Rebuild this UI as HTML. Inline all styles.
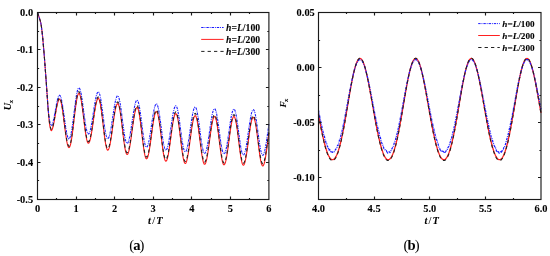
<!DOCTYPE html>
<html><head><meta charset="utf-8"><style>
html,body{margin:0;padding:0;background:#fff;}
body{width:550px;height:256px;overflow:hidden;}
svg{display:block;will-change:transform;}
</style></head><body>
<svg width="550" height="256" viewBox="0 0 550 256">
<style>
.t { font-family: "Liberation Serif", serif; font-weight: bold; font-size: 10.4px; fill: #000; stroke: #000; stroke-width: 0.08px; }
.cap { font-family: "Liberation Serif", serif; font-size: 14.6px; fill: #000; letter-spacing: -0.9px; }
</style>
<rect width="550" height="256" fill="#fff"/>
<!-- left plot curves -->
<g fill="none" stroke-linejoin="round">
<path d="M37.5 12.5 L37.68 13.03 L37.94 13.76 L38.24 14.62 L38.57 15.57 L38.9 16.55 L39.2 17.5 L39.49 18.4 L39.78 19.3 L40.08 20.22 L40.36 21.2 L40.64 22.29 L40.9 23.5 L41.15 24.91 L41.39 26.5 L41.61 28.19 L41.83 29.89 L42.02 31.52 L42.2 33 L42.34 34.22 L42.46 35.22 L42.55 36.16 L42.64 37.17 L42.76 38.4 L42.9 40 L43.08 42.01 L43.29 44.33 L43.51 46.88 L43.74 49.56 L43.98 52.29 L44.2 55 L44.42 57.71 L44.63 60.48 L44.85 63.31 L45.07 66.19 L45.28 69.09 L45.5 72 L45.72 74.97 L45.94 78 L46.16 81.06 L46.38 84.11 L46.59 87.1 L46.8 90 L47 92.83 L47.19 95.63 L47.37 98.37 L47.55 101.03 L47.72 103.58 L47.9 106 L48.07 108.29 L48.24 110.47 L48.41 112.55 L48.57 114.51 L48.73 116.36 L48.9 118.1 L49.06 119.72 L49.23 121.22 L49.39 122.6 L49.55 123.88 L49.72 125.07 L49.9 126.16 L50.1 127.17 L50.33 128.1 L50.56 128.93 L50.78 129.65 L50.97 130.25 L51.1 130.7 L51.63 130.4 L52.16 129.5 L52.68 128.05 L53.21 126.09 L53.74 123.7 L54.27 120.98 L54.8 118.02 L55.33 114.95 L55.85 111.88 L56.38 108.92 L56.91 106.2 L57.44 103.81 L57.97 101.85 L58.49 100.4 L59.02 99.5 L59.55 99.2 L60.07 99.57 L60.6 100.66 L61.12 102.44 L61.65 104.86 L62.17 107.84 L62.7 111.3 L63.23 115.12 L63.75 119.2 L64.28 123.4 L64.8 127.6 L65.33 131.68 L65.85 135.5 L66.38 138.96 L66.9 141.94 L67.42 144.36 L67.95 146.14 L68.47 147.23 L69 147.6 L69.52 147.23 L70.04 146.13 L70.57 144.33 L71.09 141.89 L71.61 138.85 L72.13 135.32 L72.66 131.39 L73.18 127.15 L73.7 122.74 L74.22 118.26 L74.75 113.85 L75.27 109.61 L75.79 105.68 L76.31 102.15 L76.84 99.11 L77.36 96.67 L77.88 94.87 L78.4 93.77 L78.92 93.4 L79.45 93.78 L79.97 94.9 L80.5 96.74 L81.02 99.24 L81.55 102.31 L82.08 105.88 L82.6 109.82 L83.12 114.02 L83.65 118.35 L84.17 122.68 L84.7 126.88 L85.22 130.82 L85.75 134.39 L86.28 137.46 L86.8 139.96 L87.33 141.8 L87.85 142.92 L88.38 143.3 L88.9 142.99 L89.42 142.08 L89.94 140.59 L90.46 138.56 L90.99 136.04 L91.51 133.11 L92.03 129.84 L92.55 126.32 L93.08 122.66 L93.6 118.94 L94.12 115.28 L94.64 111.76 L95.17 108.49 L95.69 105.56 L96.21 103.04 L96.73 101.01 L97.26 99.52 L97.78 98.61 L98.3 98.3 L98.83 98.69 L99.35 99.86 L99.88 101.78 L100.4 104.37 L100.92 107.57 L101.45 111.27 L101.97 115.37 L102.5 119.74 L103.03 124.25 L103.55 128.76 L104.08 133.13 L104.6 137.22 L105.12 140.93 L105.65 144.13 L106.17 146.72 L106.7 148.64 L107.22 149.81 L107.75 150.2 L108.27 149.88 L108.79 148.94 L109.32 147.39 L109.84 145.29 L110.36 142.68 L110.88 139.64 L111.41 136.26 L111.93 132.62 L112.45 128.82 L112.97 124.98 L113.5 121.18 L114.02 117.54 L114.54 114.16 L115.06 111.12 L115.59 108.51 L116.11 106.41 L116.63 104.86 L117.15 103.92 L117.67 103.6 L118.2 103.99 L118.72 105.13 L119.25 107.01 L119.77 109.55 L120.3 112.69 L120.83 116.32 L121.35 120.35 L121.88 124.63 L122.4 129.05 L122.92 133.47 L123.45 137.75 L123.97 141.77 L124.5 145.41 L125.03 148.55 L125.55 151.09 L126.08 152.97 L126.6 154.11 L127.12 154.5 L127.65 154.18 L128.17 153.22 L128.69 151.66 L129.21 149.53 L129.74 146.9 L130.26 143.83 L130.78 140.41 L131.3 136.73 L131.83 132.89 L132.35 129.01 L132.87 125.17 L133.39 121.49 L133.92 118.07 L134.44 115 L134.96 112.37 L135.48 110.24 L136.01 108.68 L136.53 107.72 L137.05 107.4 L137.58 107.79 L138.1 108.95 L138.62 110.85 L139.15 113.42 L139.68 116.6 L140.2 120.28 L140.72 124.34 L141.25 128.68 L141.78 133.15 L142.3 137.62 L142.83 141.96 L143.35 146.03 L143.88 149.7 L144.4 152.88 L144.93 155.45 L145.45 157.35 L145.97 158.51 L146.5 158.9 L147.02 158.58 L147.54 157.62 L148.07 156.05 L148.59 153.91 L149.11 151.27 L149.63 148.19 L150.16 144.75 L150.68 141.06 L151.2 137.2 L151.72 133.3 L152.25 129.44 L152.77 125.75 L153.29 122.31 L153.81 119.23 L154.34 116.59 L154.86 114.45 L155.38 112.88 L155.9 111.92 L156.43 111.6 L156.95 111.98 L157.48 113.1 L158 114.92 L158.53 117.4 L159.05 120.46 L159.58 124 L160.1 127.92 L160.62 132.09 L161.15 136.4 L161.68 140.71 L162.2 144.88 L162.72 148.8 L163.25 152.34 L163.78 155.4 L164.3 157.88 L164.82 159.7 L165.35 160.82 L165.88 161.2 L166.4 160.88 L166.92 159.91 L167.44 158.33 L167.96 156.18 L168.49 153.52 L169.01 150.42 L169.53 146.96 L170.05 143.24 L170.58 139.37 L171.1 135.43 L171.62 131.56 L172.14 127.84 L172.67 124.38 L173.19 121.28 L173.71 118.62 L174.23 116.47 L174.76 114.89 L175.28 113.92 L175.8 113.6 L176.33 113.98 L176.85 115.1 L177.38 116.94 L177.9 119.44 L178.43 122.51 L178.95 126.07 L179.47 130.02 L180 134.22 L180.53 138.55 L181.05 142.88 L181.58 147.08 L182.1 151.02 L182.62 154.59 L183.15 157.66 L183.68 160.16 L184.2 162 L184.72 163.12 L185.25 163.5 L185.77 163.17 L186.29 162.2 L186.82 160.61 L187.34 158.45 L187.86 155.77 L188.38 152.65 L188.91 149.17 L189.43 145.43 L189.95 141.53 L190.47 137.57 L191 133.67 L191.52 129.93 L192.04 126.45 L192.56 123.33 L193.09 120.65 L193.61 118.49 L194.13 116.9 L194.65 115.93 L195.18 115.6 L195.7 115.97 L196.23 117.07 L196.75 118.86 L197.28 121.3 L197.8 124.3 L198.33 127.77 L198.85 131.62 L199.38 135.72 L199.9 139.95 L200.43 144.18 L200.95 148.28 L201.47 152.12 L202 155.6 L202.53 158.6 L203.05 161.04 L203.57 162.83 L204.1 163.93 L204.62 164.3 L205.15 163.97 L205.67 163.01 L206.19 161.42 L206.71 159.26 L207.24 156.59 L207.76 153.47 L208.28 150 L208.8 146.27 L209.33 142.37 L209.85 138.43 L210.37 134.53 L210.89 130.8 L211.42 127.33 L211.94 124.21 L212.46 121.54 L212.98 119.38 L213.51 117.79 L214.03 116.83 L214.55 116.5 L215.08 116.87 L215.6 117.96 L216.12 119.74 L216.65 122.16 L217.18 125.14 L217.7 128.6 L218.22 132.42 L218.75 136.5 L219.28 140.7 L219.8 144.9 L220.33 148.98 L220.85 152.8 L221.38 156.26 L221.9 159.24 L222.43 161.66 L222.95 163.44 L223.47 164.53 L224 164.9 L224.52 164.57 L225.04 163.59 L225.57 161.98 L226.09 159.8 L226.61 157.09 L227.13 153.94 L227.66 150.42 L228.18 146.64 L228.7 142.7 L229.22 138.7 L229.75 134.76 L230.27 130.98 L230.79 127.46 L231.31 124.31 L231.84 121.6 L232.36 119.42 L232.88 117.81 L233.4 116.83 L233.93 116.5 L234.45 116.87 L234.98 117.97 L235.5 119.76 L236.03 122.2 L236.55 125.2 L237.08 128.67 L237.6 132.52 L238.12 136.62 L238.65 140.85 L239.18 145.08 L239.7 149.18 L240.22 153.02 L240.75 156.5 L241.28 159.5 L241.8 161.94 L242.32 163.73 L242.85 164.83 L243.38 165.2 L243.9 164.87 L244.42 163.9 L244.94 162.31 L245.46 160.15 L245.99 157.47 L246.51 154.35 L247.03 150.87 L247.55 147.13 L248.08 143.23 L248.6 139.27 L249.12 135.37 L249.64 131.63 L250.17 128.15 L250.69 125.03 L251.21 122.35 L251.73 120.19 L252.26 118.6 L252.78 117.63 L253.3 117.3 L253.83 117.67 L254.35 118.77 L254.88 120.56 L255.4 123 L255.93 126 L256.45 129.47 L256.98 133.32 L257.5 137.42 L258.02 141.65 L258.55 145.88 L259.07 149.98 L259.6 153.82 L260.12 157.3 L260.65 160.3 L261.18 162.74 L261.7 164.53 L262.23 165.63 L262.75 166 L263.24 165.7 L263.74 164.82 L264.23 163.37 L264.73 161.4 L265.22 158.94 L265.72 156.07 L266.21 152.84 L266.7 149.35 L267.2 145.67 L267.69 141.9 L268.19 138.13 L268.68 134.45 L268.9 132.89" stroke="#ff1c1c" stroke-width="1.1"/>
<path d="M37.5 12.5 L37.68 13.03 L37.94 13.76 L38.24 14.62 L38.57 15.57 L38.9 16.55 L39.2 17.5 L39.49 18.4 L39.78 19.3 L40.08 20.22 L40.36 21.2 L40.64 22.29 L40.9 23.5 L41.15 24.91 L41.39 26.5 L41.61 28.19 L41.83 29.89 L42.02 31.52 L42.2 33 L42.34 34.22 L42.46 35.22 L42.55 36.16 L42.64 37.17 L42.76 38.4 L42.9 40 L43.08 42.01 L43.29 44.33 L43.51 46.88 L43.74 49.56 L43.98 52.29 L44.2 55 L44.42 57.71 L44.63 60.48 L44.85 63.31 L45.07 66.19 L45.28 69.09 L45.5 72 L45.72 74.97 L45.94 78 L46.16 81.06 L46.38 84.11 L46.59 87.1 L46.8 90 L47 92.86 L47.19 95.72 L47.37 98.53 L47.55 101.22 L47.72 103.73 L47.9 106 L48.07 108 L48.24 109.77 L48.41 111.37 L48.57 112.83 L48.73 114.21 L48.9 115.55 L49.06 116.85 L49.23 118.06 L49.39 119.19 L49.55 120.24 L49.72 121.2 L49.9 122.08 L50.1 122.88 L50.33 123.61 L50.56 124.25 L50.78 124.8 L50.97 125.25 L51.1 125.6 L51.63 125.31 L52.16 124.45 L52.68 123.05 L53.21 121.16 L53.74 118.87 L54.27 116.25 L54.8 113.41 L55.33 110.45 L55.85 107.49 L56.38 104.65 L56.91 102.03 L57.44 99.74 L57.97 97.85 L58.49 96.45 L59.02 95.59 L59.55 95.3 L60.07 95.63 L60.6 96.62 L61.12 98.23 L61.65 100.41 L62.17 103.11 L62.7 106.22 L63.23 109.68 L63.75 113.36 L64.28 117.15 L64.8 120.94 L65.33 124.62 L65.85 128.07 L66.38 131.19 L66.9 133.89 L67.42 136.07 L67.95 137.68 L68.47 138.67 L69 139 L69.52 138.65 L70.04 137.61 L70.57 135.91 L71.09 133.6 L71.61 130.74 L72.13 127.4 L72.66 123.68 L73.18 119.68 L73.7 115.51 L74.22 111.29 L74.75 107.12 L75.27 103.12 L75.79 99.4 L76.31 96.06 L76.84 93.2 L77.36 90.89 L77.88 89.19 L78.4 88.15 L78.92 87.8 L79.45 88.15 L79.97 89.19 L80.5 90.89 L81.02 93.2 L81.55 96.05 L82.08 99.35 L82.6 103 L83.12 106.89 L83.65 110.9 L84.17 114.91 L84.7 118.8 L85.22 122.45 L85.75 125.75 L86.28 128.6 L86.8 130.91 L87.33 132.61 L87.85 133.65 L88.38 134 L88.9 133.71 L89.42 132.86 L89.94 131.46 L90.46 129.55 L90.99 127.19 L91.51 124.44 L92.03 121.38 L92.55 118.08 L93.08 114.64 L93.6 111.16 L94.12 107.72 L94.64 104.42 L95.17 101.36 L95.69 98.61 L96.21 96.25 L96.73 94.34 L97.26 92.94 L97.78 92.09 L98.3 91.8 L98.83 92.16 L99.35 93.22 L99.88 94.95 L100.4 97.3 L100.92 100.19 L101.45 103.55 L101.97 107.26 L102.5 111.22 L103.03 115.3 L103.55 119.38 L104.08 123.34 L104.6 127.05 L105.12 130.41 L105.65 133.3 L106.17 135.65 L106.7 137.38 L107.22 138.44 L107.75 138.8 L108.27 138.51 L108.79 137.64 L109.32 136.21 L109.84 134.27 L110.36 131.86 L110.88 129.06 L111.41 125.94 L111.93 122.58 L112.45 119.08 L112.97 115.52 L113.5 112.02 L114.02 108.66 L114.54 105.54 L115.06 102.74 L115.59 100.33 L116.11 98.39 L116.63 96.96 L117.15 96.09 L117.67 95.8 L118.2 96.16 L118.72 97.24 L119.25 99 L119.77 101.38 L120.3 104.32 L120.83 107.72 L121.35 111.49 L121.88 115.51 L122.4 119.65 L122.92 123.79 L123.45 127.81 L123.97 131.57 L124.5 134.98 L125.03 137.92 L125.55 140.3 L126.08 142.06 L126.6 143.14 L127.12 143.5 L127.65 143.2 L128.17 142.32 L128.69 140.88 L129.21 138.92 L129.74 136.5 L130.26 133.67 L130.78 130.52 L131.3 127.13 L131.83 123.59 L132.35 120.01 L132.87 116.47 L133.39 113.08 L133.92 109.93 L134.44 107.1 L134.96 104.68 L135.48 102.72 L136.01 101.28 L136.53 100.4 L137.05 100.1 L137.58 100.46 L138.1 101.52 L138.62 103.26 L139.15 105.61 L139.68 108.51 L140.2 111.87 L140.72 115.6 L141.25 119.56 L141.78 123.65 L142.3 127.74 L142.83 131.7 L143.35 135.42 L143.88 138.79 L144.4 141.69 L144.93 144.04 L145.45 145.78 L145.97 146.84 L146.5 147.2 L147.02 146.9 L147.54 146.02 L148.07 144.58 L148.59 142.62 L149.11 140.2 L149.63 137.37 L150.16 134.22 L150.68 130.83 L151.2 127.29 L151.72 123.71 L152.25 120.17 L152.77 116.78 L153.29 113.63 L153.81 110.8 L154.34 108.38 L154.86 106.42 L155.38 104.98 L155.9 104.1 L156.43 103.8 L156.95 104.15 L157.48 105.2 L158 106.91 L158.53 109.24 L159.05 112.11 L159.58 115.42 L160.1 119.1 L160.62 123.01 L161.15 127.05 L161.68 131.09 L162.2 135 L162.72 138.68 L163.25 141.99 L163.78 144.86 L164.3 147.19 L164.82 148.9 L165.35 149.95 L165.88 150.3 L166.4 150 L166.92 149.09 L167.44 147.62 L167.96 145.61 L168.49 143.12 L169.01 140.22 L169.53 136.99 L170.05 133.51 L170.58 129.89 L171.1 126.21 L171.62 122.59 L172.14 119.11 L172.67 115.88 L173.19 112.98 L173.71 110.49 L174.23 108.48 L174.76 107.01 L175.28 106.1 L175.8 105.8 L176.33 106.15 L176.85 107.19 L177.38 108.89 L177.9 111.19 L178.43 114.03 L178.95 117.33 L179.47 120.97 L180 124.85 L180.53 128.85 L181.05 132.85 L181.58 136.73 L182.1 140.38 L182.62 143.67 L183.15 146.51 L183.68 148.81 L184.2 150.51 L184.72 151.55 L185.25 151.9 L185.77 151.59 L186.29 150.68 L186.82 149.19 L187.34 147.17 L187.86 144.65 L188.38 141.73 L188.91 138.47 L189.43 134.96 L189.95 131.3 L190.47 127.6 L191 123.94 L191.52 120.43 L192.04 117.17 L192.56 114.25 L193.09 111.73 L193.61 109.71 L194.13 108.22 L194.65 107.31 L195.18 107 L195.7 107.35 L196.23 108.4 L196.75 110.11 L197.28 112.43 L197.8 115.29 L198.33 118.6 L198.85 122.27 L199.38 126.17 L199.9 130.2 L200.43 134.23 L200.95 138.13 L201.47 141.8 L202 145.11 L202.53 147.97 L203.05 150.29 L203.57 152 L204.1 153.05 L204.62 153.4 L205.15 153.1 L205.67 152.19 L206.19 150.71 L206.71 148.69 L207.24 146.19 L207.76 143.27 L208.28 140.03 L208.8 136.54 L209.33 132.9 L209.85 129.2 L210.37 125.56 L210.89 122.07 L211.42 118.83 L211.94 115.91 L212.46 113.41 L212.98 111.39 L213.51 109.91 L214.03 109 L214.55 108.7 L215.08 109.04 L215.6 110.06 L216.12 111.73 L216.65 113.99 L217.18 116.77 L217.7 120 L218.22 123.57 L218.75 127.38 L219.28 131.3 L219.8 135.22 L220.33 139.03 L220.85 142.6 L221.38 145.83 L221.9 148.61 L222.43 150.87 L222.95 152.54 L223.47 153.56 L224 153.9 L224.52 153.59 L225.04 152.69 L225.57 151.2 L226.09 149.18 L226.61 146.67 L227.13 143.75 L227.66 140.5 L228.18 137 L228.7 133.35 L229.22 129.65 L229.75 126 L230.27 122.5 L230.79 119.25 L231.31 116.33 L231.84 113.82 L232.36 111.8 L232.88 110.31 L233.4 109.41 L233.93 109.1 L234.45 109.45 L234.98 110.48 L235.5 112.17 L236.03 114.47 L236.55 117.3 L237.08 120.57 L237.6 124.2 L238.12 128.06 L238.65 132.05 L239.18 136.04 L239.7 139.9 L240.22 143.52 L240.75 146.8 L241.28 149.63 L241.8 151.93 L242.32 153.62 L242.85 154.65 L243.38 155 L243.9 154.69 L244.42 153.77 L244.94 152.26 L245.46 150.21 L245.99 147.67 L246.51 144.72 L247.03 141.42 L247.55 137.87 L248.08 134.17 L248.6 130.43 L249.12 126.73 L249.64 123.18 L250.17 119.88 L250.69 116.93 L251.21 114.39 L251.73 112.34 L252.26 110.83 L252.78 109.91 L253.3 109.6 L253.83 109.95 L254.35 110.98 L254.88 112.66 L255.4 114.95 L255.93 117.76 L256.45 121.02 L256.98 124.63 L257.5 128.48 L258.02 132.45 L258.55 136.42 L259.07 140.27 L259.6 143.88 L260.12 147.14 L260.65 149.95 L261.18 152.24 L261.7 153.92 L262.23 154.95 L262.75 155.3 L263.24 155.02 L263.74 154.19 L264.23 152.84 L264.73 150.98 L265.22 148.68 L265.72 145.98 L266.21 142.96 L266.7 139.68 L267.2 136.24 L267.69 132.7 L268.19 129.16 L268.68 125.72 L268.9 124.25" stroke="#1c1cff" stroke-width="1.1" stroke-dasharray="2.4 0.9 0.9 1.0"/>
<path d="M37.5 12.5 L37.68 13.03 L37.94 13.76 L38.24 14.62 L38.57 15.57 L38.9 16.55 L39.2 17.5 L39.49 18.4 L39.78 19.3 L40.08 20.22 L40.36 21.2 L40.64 22.29 L40.9 23.5 L41.15 24.91 L41.39 26.5 L41.61 28.19 L41.83 29.89 L42.02 31.52 L42.2 33 L42.34 34.22 L42.46 35.22 L42.55 36.16 L42.64 37.17 L42.76 38.4 L42.9 40 L43.08 42.01 L43.29 44.33 L43.51 46.88 L43.74 49.56 L43.98 52.29 L44.2 55 L44.42 57.71 L44.63 60.48 L44.85 63.31 L45.07 66.19 L45.28 69.09 L45.5 72 L45.72 74.97 L45.94 78 L46.16 81.06 L46.38 84.11 L46.59 87.1 L46.8 90 L47 92.84 L47.19 95.65 L47.37 98.41 L47.55 101.08 L47.72 103.62 L47.9 106 L48.07 108.22 L48.24 110.29 L48.41 112.25 L48.57 114.08 L48.73 115.81 L48.9 117.45 L49.06 118.99 L49.23 120.41 L49.39 121.73 L49.55 122.95 L49.72 124.08 L49.9 125.12 L50.1 126.08 L50.33 126.96 L50.56 127.74 L50.78 128.42 L50.97 128.97 L51.1 129.4 L51.63 129.1 L52.16 128.2 L52.68 126.75 L53.21 124.79 L53.74 122.4 L54.27 119.68 L54.8 116.72 L55.33 113.65 L55.85 110.58 L56.38 107.62 L56.91 104.9 L57.44 102.51 L57.97 100.55 L58.49 99.1 L59.02 98.2 L59.55 97.9 L60.07 98.27 L60.6 99.36 L61.12 101.14 L61.65 103.56 L62.17 106.54 L62.7 110 L63.23 113.82 L63.75 117.9 L64.28 122.1 L64.8 126.3 L65.33 130.38 L65.85 134.2 L66.38 137.66 L66.9 140.64 L67.42 143.06 L67.95 144.84 L68.47 145.93 L69 146.3 L69.52 145.93 L70.04 144.82 L70.57 143.01 L71.09 140.54 L71.61 137.49 L72.13 133.93 L72.66 129.97 L73.18 125.7 L73.7 121.25 L74.22 116.75 L74.75 112.3 L75.27 108.03 L75.79 104.07 L76.31 100.51 L76.84 97.46 L77.36 94.99 L77.88 93.18 L78.4 92.07 L78.92 91.7 L79.45 92.08 L79.97 93.21 L80.5 95.05 L81.02 97.55 L81.55 100.63 L82.08 104.2 L82.6 108.15 L83.12 112.36 L83.65 116.7 L84.17 121.04 L84.7 125.25 L85.22 129.2 L85.75 132.77 L86.28 135.85 L86.8 138.35 L87.33 140.19 L87.85 141.32 L88.38 141.7 L88.9 141.4 L89.42 140.49 L89.94 139.01 L90.46 136.99 L90.99 134.49 L91.51 131.57 L92.03 128.33 L92.55 124.84 L93.08 121.2 L93.6 117.5 L94.12 113.86 L94.64 110.37 L95.17 107.13 L95.69 104.21 L96.21 101.71 L96.73 99.69 L97.26 98.21 L97.78 97.3 L98.3 97 L98.83 97.39 L99.35 98.55 L99.88 100.45 L100.4 103.02 L100.92 106.2 L101.45 109.88 L101.97 113.94 L102.5 118.28 L103.03 122.75 L103.55 127.22 L104.08 131.56 L104.6 135.62 L105.12 139.3 L105.65 142.48 L106.17 145.05 L106.7 146.95 L107.22 148.11 L107.75 148.5 L108.27 148.18 L108.79 147.24 L109.32 145.69 L109.84 143.59 L110.36 140.98 L110.88 137.94 L111.41 134.56 L111.93 130.92 L112.45 127.12 L112.97 123.28 L113.5 119.48 L114.02 115.84 L114.54 112.46 L115.06 109.42 L115.59 106.81 L116.11 104.71 L116.63 103.16 L117.15 102.22 L117.67 101.9 L118.2 102.29 L118.72 103.43 L119.25 105.31 L119.77 107.85 L120.3 110.99 L120.83 114.62 L121.35 118.65 L121.88 122.93 L122.4 127.35 L122.92 131.77 L123.45 136.05 L123.97 140.07 L124.5 143.71 L125.03 146.85 L125.55 149.39 L126.08 151.27 L126.6 152.41 L127.12 152.8 L127.65 152.48 L128.17 151.52 L128.69 149.96 L129.21 147.83 L129.74 145.2 L130.26 142.13 L130.78 138.71 L131.3 135.03 L131.83 131.19 L132.35 127.31 L132.87 123.47 L133.39 119.79 L133.92 116.37 L134.44 113.3 L134.96 110.67 L135.48 108.54 L136.01 106.98 L136.53 106.02 L137.05 105.7 L137.58 106.09 L138.1 107.25 L138.62 109.14 L139.15 111.7 L139.68 114.86 L140.2 118.53 L140.72 122.58 L141.25 126.9 L141.78 131.35 L142.3 135.8 L142.83 140.12 L143.35 144.18 L143.88 147.84 L144.4 151 L144.93 153.56 L145.45 155.45 L145.97 156.61 L146.5 157 L147.02 156.68 L147.54 155.72 L148.07 154.16 L148.59 152.03 L149.11 149.4 L149.63 146.33 L150.16 142.91 L150.68 139.23 L151.2 135.39 L151.72 131.51 L152.25 127.67 L152.77 123.99 L153.29 120.57 L153.81 117.5 L154.34 114.87 L154.86 112.74 L155.38 111.18 L155.9 110.22 L156.43 109.9 L156.95 110.28 L157.48 111.39 L158 113.22 L158.53 115.69 L159.05 118.74 L159.58 122.28 L160.1 126.19 L160.62 130.35 L161.15 134.65 L161.68 138.95 L162.2 143.11 L162.72 147.03 L163.25 150.56 L163.78 153.61 L164.3 156.08 L164.82 157.91 L165.35 159.02 L165.88 159.4 L166.4 159.08 L166.92 158.11 L167.44 156.54 L167.96 154.39 L168.49 151.74 L169.01 148.64 L169.53 145.19 L170.05 141.48 L170.58 137.61 L171.1 133.69 L171.62 129.82 L172.14 126.11 L172.67 122.66 L173.19 119.56 L173.71 116.91 L174.23 114.76 L174.76 113.19 L175.28 112.22 L175.8 111.9 L176.33 112.28 L176.85 113.4 L177.38 115.22 L177.9 117.7 L178.43 120.76 L178.95 124.3 L179.47 128.22 L180 132.39 L180.53 136.7 L181.05 141.01 L181.58 145.18 L182.1 149.1 L182.62 152.64 L183.15 155.7 L183.68 158.18 L184.2 160 L184.72 161.12 L185.25 161.5 L185.77 161.17 L186.29 160.2 L186.82 158.6 L187.34 156.43 L187.86 153.74 L188.38 150.6 L188.91 147.11 L189.43 143.35 L189.95 139.44 L190.47 135.46 L191 131.55 L191.52 127.79 L192.04 124.3 L192.56 121.16 L193.09 118.47 L193.61 116.3 L194.13 114.7 L194.65 113.73 L195.18 113.4 L195.7 113.77 L196.23 114.87 L196.75 116.66 L197.28 119.1 L197.8 122.1 L198.33 125.58 L198.85 129.42 L199.38 133.52 L199.9 137.75 L200.43 141.98 L200.95 146.08 L201.47 149.92 L202 153.4 L202.53 156.4 L203.05 158.84 L203.57 160.63 L204.1 161.73 L204.62 162.1 L205.15 161.78 L205.67 160.82 L206.19 159.24 L206.71 157.1 L207.24 154.45 L207.76 151.36 L208.28 147.92 L208.8 144.22 L209.33 140.36 L209.85 136.44 L210.37 132.58 L210.89 128.88 L211.42 125.44 L211.94 122.35 L212.46 119.7 L212.98 117.56 L213.51 115.98 L214.03 115.02 L214.55 114.7 L215.08 115.07 L215.6 116.16 L216.12 117.94 L216.65 120.35 L217.18 123.33 L217.7 126.78 L218.22 130.59 L218.75 134.66 L219.28 138.85 L219.8 143.04 L220.33 147.11 L220.85 150.93 L221.38 154.37 L221.9 157.35 L222.43 159.76 L222.95 161.54 L223.47 162.63 L224 163 L224.52 162.67 L225.04 161.69 L225.57 160.09 L226.09 157.91 L226.61 155.21 L227.13 152.06 L227.66 148.55 L228.18 144.78 L228.7 140.84 L229.22 136.86 L229.75 132.92 L230.27 129.15 L230.79 125.64 L231.31 122.49 L231.84 119.79 L232.36 117.61 L232.88 116.01 L233.4 115.03 L233.93 114.7 L234.45 115.07 L234.98 116.16 L235.5 117.95 L236.03 120.37 L236.55 123.36 L237.08 126.82 L237.6 130.66 L238.12 134.74 L238.65 138.95 L239.18 143.16 L239.7 147.24 L240.22 151.07 L240.75 154.54 L241.28 157.53 L241.8 159.95 L242.32 161.74 L242.85 162.83 L243.38 163.2 L243.9 162.88 L244.42 161.91 L244.94 160.33 L245.46 158.18 L245.99 155.52 L246.51 152.42 L247.03 148.96 L247.55 145.24 L248.08 141.37 L248.6 137.43 L249.12 133.56 L249.64 129.84 L250.17 126.38 L250.69 123.28 L251.21 120.62 L251.73 118.47 L252.26 116.89 L252.78 115.92 L253.3 115.6 L253.83 115.97 L254.35 117.05 L254.88 118.83 L255.4 121.24 L255.93 124.21 L256.45 127.65 L256.98 131.46 L257.5 135.52 L258.02 139.7 L258.55 143.88 L259.07 147.94 L259.6 151.75 L260.12 155.19 L260.65 158.16 L261.18 160.57 L261.7 162.35 L262.23 163.43 L262.75 163.8 L263.24 163.51 L263.74 162.63 L264.23 161.2 L264.73 159.25 L265.22 156.81 L265.72 153.97 L266.21 150.78 L266.7 147.32 L267.2 143.68 L267.69 139.95 L268.19 136.22 L268.68 132.58 L268.9 131.03" stroke="#222" stroke-width="1.1" stroke-dasharray="3.3 3.1"/>
</g>
<g fill="none" stroke-linejoin="round">
<path d="M318.5 114.01 L319 116.79 L319.5 119.53 L320 122.23 L320.5 124.87 L321 127.46 L321.5 129.98 L322 132.42 L322.5 134.79 L323 137.08 L323.5 139.27 L324 141.38 L324.5 143.38 L325 145.28 L325.5 147.08 L326 148.77 L326.5 150.34 L327 151.8 L327.5 153.15 L328 154.37 L328.5 155.47 L329 156.44 L329.5 157.29 L330 158.01 L330.5 158.61 L331 159.07 L331.5 159.41 L332 159.61 L332.5 159.68 L333 159.62 L333.5 159.42 L334 159.09 L334.5 158.63 L335 158.04 L335.5 157.31 L336 156.45 L336.5 155.46 L337 154.34 L337.5 153.08 L338 151.71 L338.5 150.2 L339 148.57 L339.5 146.82 L340 144.95 L340.5 142.97 L341 140.88 L341.5 138.68 L342 136.37 L342.5 133.98 L343 131.49 L343.5 128.92 L344 126.27 L344.5 123.55 L345 120.77 L345.5 117.93 L346 115.06 L346.5 112.15 L347 109.21 L347.5 106.26 L348 103.3 L348.5 100.35 L349 97.42 L349.5 94.52 L350 91.66 L350.5 88.85 L351 86.1 L351.5 83.43 L352 80.84 L352.5 78.35 L353 75.97 L353.5 73.7 L354 71.56 L354.5 69.56 L355 67.7 L355.5 65.99 L356 64.45 L356.5 63.07 L357 61.86 L357.5 60.84 L358 59.99 L358.5 59.33 L359 58.86 L359.5 58.57 L360 58.48 L360.5 58.58 L361 58.86 L361.5 59.33 L362 59.99 L362.5 60.82 L363 61.84 L363.5 63.02 L364 64.37 L364.5 65.87 L365 67.53 L365.5 69.33 L366 71.27 L366.5 73.34 L367 75.52 L367.5 77.81 L368 80.21 L368.5 82.69 L369 85.25 L369.5 87.88 L370 90.57 L370.5 93.31 L371 96.09 L371.5 98.9 L372 101.73 L372.5 104.57 L373 107.41 L373.5 110.25 L374 113.06 L374.5 115.85 L375 118.6 L375.5 121.32 L376 123.98 L376.5 126.59 L377 129.13 L377.5 131.6 L378 134 L378.5 136.31 L379 138.54 L379.5 140.67 L380 142.71 L380.5 144.65 L381 146.48 L381.5 148.21 L382 149.82 L382.5 151.32 L383 152.7 L383.5 153.97 L384 155.11 L384.5 156.13 L385 157.02 L385.5 157.78 L386 158.42 L386.5 158.93 L387 159.31 L387.5 159.56 L388 159.67 L388.5 159.65 L389 159.5 L389.5 159.22 L390 158.8 L390.5 158.25 L391 157.57 L391.5 156.76 L392 155.81 L392.5 154.73 L393 153.52 L393.5 152.19 L394 150.72 L394.5 149.14 L395 147.43 L395.5 145.6 L396 143.65 L396.5 141.6 L397 139.43 L397.5 137.17 L398 134.8 L398.5 132.34 L399 129.8 L399.5 127.17 L400 124.48 L400.5 121.72 L401 118.9 L401.5 116.04 L402 113.14 L402.5 110.21 L403 107.26 L403.5 104.3 L404 101.35 L404.5 98.41 L405 95.5 L405.5 92.62 L406 89.79 L406.5 87.02 L407 84.32 L407.5 81.71 L408 79.18 L408.5 76.76 L409 74.45 L409.5 72.27 L410 70.22 L410.5 68.31 L411 66.55 L411.5 64.95 L412 63.52 L412.5 62.25 L413 61.16 L413.5 60.26 L414 59.53 L414.5 59 L415 58.65 L415.5 58.49 L416 58.52 L416.5 58.74 L417 59.15 L417.5 59.75 L418 60.52 L418.5 61.47 L419 62.6 L419.5 63.89 L420 65.35 L420.5 66.95 L421 68.71 L421.5 70.6 L422 72.62 L422.5 74.77 L423 77.03 L423.5 79.38 L424 81.84 L424.5 84.37 L425 86.98 L425.5 89.65 L426 92.38 L426.5 95.15 L427 97.95 L427.5 100.77 L428 103.61 L428.5 106.45 L429 109.29 L429.5 112.11 L430 114.91 L430.5 117.68 L431 120.4 L431.5 123.08 L432 125.71 L432.5 128.28 L433 130.77 L433.5 133.19 L434 135.54 L434.5 137.79 L435 139.96 L435.5 142.03 L436 144.01 L436.5 145.87 L437 147.64 L437.5 149.29 L438 150.83 L438.5 152.25 L439 153.55 L439.5 154.73 L440 155.79 L440.5 156.73 L441 157.54 L441.5 158.22 L442 158.77 L442.5 159.19 L443 159.49 L443.5 159.65 L444 159.67 L444.5 159.57 L445 159.33 L445.5 158.96 L446 158.46 L446.5 157.82 L447 157.05 L447.5 156.15 L448 155.11 L448.5 153.95 L449 152.65 L449.5 151.23 L450 149.69 L450.5 148.02 L451 146.23 L451.5 144.33 L452 142.31 L452.5 140.18 L453 137.95 L453.5 135.61 L454 133.18 L454.5 130.67 L455 128.07 L455.5 125.4 L456 122.66 L456.5 119.86 L457 117.01 L457.5 114.12 L458 111.2 L458.5 108.26 L459 105.31 L459.5 102.35 L460 99.41 L460.5 96.48 L461 93.59 L461.5 90.75 L462 87.95 L462.5 85.23 L463 82.58 L463.5 80.03 L464 77.57 L464.5 75.22 L465 73 L465.5 70.9 L466 68.94 L466.5 67.13 L467 65.48 L467.5 63.99 L468 62.66 L468.5 61.51 L469 60.54 L469.5 59.76 L470 59.16 L470.5 58.75 L471 58.52 L471.5 58.49 L472 58.65 L472.5 58.99 L473 59.52 L473.5 60.24 L474 61.13 L474.5 62.2 L475 63.44 L475.5 64.84 L476 66.39 L476.5 68.1 L477 69.94 L477.5 71.92 L478 74.03 L478.5 76.25 L479 78.57 L479.5 81 L480 83.5 L480.5 86.09 L481 88.74 L481.5 91.45 L482 94.2 L482.5 97 L483 99.81 L483.5 102.65 L484 105.49 L484.5 108.33 L485 111.15 L485.5 113.96 L486 116.74 L486.5 119.48 L487 122.18 L487.5 124.83 L488 127.41 L488.5 129.93 L489 132.38 L489.5 134.75 L490 137.04 L490.5 139.24 L491 141.34 L491.5 143.35 L492 145.25 L492.5 147.05 L493 148.74 L493.5 150.32 L494 151.78 L494.5 153.12 L495 154.35 L495.5 155.45 L496 156.43 L496.5 157.28 L497 158 L497.5 158.6 L498 159.07 L498.5 159.4 L499 159.61 L499.5 159.68 L500 159.62 L500.5 159.43 L501 159.1 L501.5 158.64 L502 158.05 L502.5 157.32 L503 156.47 L503.5 155.48 L504 154.36 L504.5 153.11 L505 151.73 L505.5 150.23 L506 148.6 L506.5 146.85 L507 144.99 L507.5 143 L508 140.91 L508.5 138.71 L509 136.41 L509.5 134.02 L510 131.53 L510.5 128.96 L511 126.31 L511.5 123.59 L512 120.82 L512.5 117.98 L513 115.11 L513.5 112.2 L514 109.26 L514.5 106.31 L515 103.35 L515.5 100.4 L516 97.47 L516.5 94.57 L517 91.71 L517.5 88.89 L518 86.15 L518.5 83.47 L519 80.88 L519.5 78.39 L520 76.01 L520.5 73.74 L521 71.6 L521.5 69.59 L522 67.73 L522.5 66.02 L523 64.47 L523.5 63.09 L524 61.88 L524.5 60.85 L525 60 L525.5 59.34 L526 58.86 L526.5 58.58 L527 58.48 L527.5 58.57 L528 58.85 L528.5 59.32 L529 59.98 L529.5 60.81 L530 61.82 L530.5 63 L531 64.34 L531.5 65.85 L532 67.5 L532.5 69.3 L533 71.24 L533.5 73.3 L534 75.48 L534.5 77.77 L535 80.16 L535.5 82.65 L536 85.21 L536.5 87.84 L537 90.53 L537.5 93.27 L538 96.05 L538.5 98.86 L539 101.68 L539.5 104.52 L540 107.37 L540.5 110.2 L541 113.01" stroke="#ff1c1c" stroke-width="1.3"/>
<path d="M318.5 110.35 L319 112.89 L319.5 115.41 L320 117.86 L320.5 120.41 L321 122.82 L321.5 124.85 L322 127.26 L322.5 129.39 L323 131.73 L323.5 133.96 L324 134.9 L324.5 136.57 L325 139.72 L325.5 140.65 L326 142.8 L326.5 142.89 L327 145.04 L327.5 146.77 L328 147.02 L328.5 149.32 L329 150.15 L329.5 149.36 L330 150.02 L330.5 151.5 L331 152.65 L331.5 151.95 L332 151.84 L332.5 152.28 L333 151.51 L333.5 151.68 L334 151.77 L334.5 151.44 L335 150.42 L335.5 149.74 L336 148.92 L336.5 148.44 L337 147.1 L337.5 145.46 L338 145.65 L338.5 143.75 L339 142.4 L339.5 139.97 L340 139.69 L340.5 137.57 L341 134.49 L341.5 132.8 L342 131.15 L342.5 128.9 L343 126.74 L343.5 123.99 L344 121.73 L344.5 119.13 L345 116.55 L345.5 113.95 L346 111.31 L346.5 108.63 L347 105.94 L347.5 103.24 L348 100.53 L348.5 97.83 L349 95.14 L349.5 92.49 L350 89.87 L350.5 87.3 L351 84.79 L351.5 82.35 L352 79.98 L352.5 77.71 L353 75.53 L353.5 73.46 L354 71.51 L354.5 69.68 L355 67.99 L355.5 66.43 L356 65.02 L356.5 63.76 L357 62.67 L357.5 61.73 L358 60.96 L358.5 60.35 L359 59.92 L359.5 59.67 L360 59.58 L360.5 59.67 L361 59.93 L361.5 60.36 L362 60.95 L362.5 61.72 L363 62.64 L363.5 63.72 L364 64.95 L364.5 66.32 L365 67.83 L365.5 69.48 L366 71.25 L366.5 73.13 L367 75.13 L367.5 77.22 L368 79.4 L368.5 81.67 L369 84.01 L369.5 86.42 L370 88.88 L370.5 91.38 L371 93.93 L371.5 96.5 L372 99.09 L372.5 101.69 L373 104.3 L373.5 106.89 L374 109.47 L374.5 112.03 L375 114.56 L375.5 117.05 L376 119.52 L376.5 122.05 L377 124.44 L377.5 126.51 L378 128.8 L378.5 130.32 L379 132.56 L379.5 135.3 L380 136.6 L380.5 137.95 L381 140.31 L381.5 142.18 L382 143.62 L382.5 144.46 L383 145.86 L383.5 147.15 L384 148.69 L384.5 149.17 L385 149.76 L385.5 150.65 L386 150.41 L386.5 150.9 L387 152.44 L387.5 153.17 L388 152.58 L388.5 152.2 L389 151.66 L389.5 152 L390 152.48 L390.5 151.59 L391 150.54 L391.5 150.36 L392 148.36 L392.5 147.87 L393 147.54 L393.5 145.63 L394 144.06 L394.5 142.26 L395 141.18 L395.5 140.23 L396 136.78 L396.5 136.15 L397 134.16 L397.5 132.09 L398 129.7 L398.5 127.45 L399 124.86 L399.5 122.46 L400 119.94 L400.5 117.4 L401 114.83 L401.5 112.21 L402 109.54 L402.5 106.86 L403 104.15 L403.5 101.45 L404 98.74 L404.5 96.05 L405 93.38 L405.5 90.75 L406 88.17 L406.5 85.63 L407 83.17 L407.5 80.77 L408 78.47 L408.5 76.26 L409 74.15 L409.5 72.16 L410 70.29 L410.5 68.55 L411 66.94 L411.5 65.48 L412 64.17 L412.5 63.02 L413 62.03 L413.5 61.2 L414 60.54 L414.5 60.05 L415 59.73 L415.5 59.59 L416 59.62 L416.5 59.82 L417 60.19 L417.5 60.73 L418 61.44 L418.5 62.31 L419 63.34 L419.5 64.51 L420 65.84 L420.5 67.31 L421 68.91 L421.5 70.63 L422 72.48 L422.5 74.44 L423 76.5 L423.5 78.65 L424 80.89 L424.5 83.21 L425 85.59 L425.5 88.04 L426 90.53 L426.5 93.06 L427 95.63 L427.5 98.21 L428 100.81 L428.5 103.41 L429 106.01 L429.5 108.6 L430 111.17 L430.5 113.71 L431 116.21 L431.5 118.73 L432 121.11 L432.5 123.29 L433 125.75 L433.5 127.96 L434 129.98 L434.5 132.02 L435 134.26 L435.5 136.31 L436 138.13 L436.5 139.58 L437 140.44 L437.5 142.32 L438 143.65 L438.5 145.7 L439 147.4 L439.5 148.38 L440 149.36 L440.5 150.26 L441 150 L441.5 151.68 L442 151.89 L442.5 151.22 L443 151.37 L443.5 151.52 L444 152.87 L444.5 151.87 L445 151.39 L445.5 151.98 L446 151.01 L446.5 149.92 L447 149.37 L447.5 149.2 L448 147.59 L448.5 146.71 L449 146.3 L449.5 144.53 L450 142.86 L450.5 141.59 L451 139.13 L451.5 138.03 L452 136.24 L452.5 133.96 L453 131.86 L453.5 130.63 L454 127.97 L454.5 125.44 L455 123.31 L455.5 120.9 L456 118.24 L456.5 115.72 L457 113.1 L457.5 110.45 L458 107.77 L458.5 105.07 L459 102.36 L459.5 99.66 L460 96.96 L460.5 94.29 L461 91.64 L461.5 89.04 L462 86.48 L462.5 83.99 L463 81.58 L463.5 79.24 L464 77 L464.5 74.85 L465 72.82 L465.5 70.91 L466 69.12 L466.5 67.47 L467 65.96 L467.5 64.6 L468 63.39 L468.5 62.35 L469 61.46 L469.5 60.74 L470 60.2 L470.5 59.82 L471 59.62 L471.5 59.59 L472 59.73 L472.5 60.05 L473 60.53 L473.5 61.18 L474 62 L474.5 62.97 L475 64.1 L475.5 65.37 L476 66.79 L476.5 68.35 L477 70.03 L477.5 71.84 L478 73.76 L478.5 75.79 L479 77.91 L479.5 80.12 L480 82.42 L480.5 84.78 L481 87.2 L481.5 89.68 L482 92.2 L482.5 94.75 L483 97.33 L483.5 99.93 L484 102.53 L484.5 105.13 L485 107.73 L485.5 110.3 L486 112.85 L486.5 115.37 L487 117.81 L487.5 120.18 L488 122.76 L488.5 124.75 L489 127.4 L489.5 129.59 L490 131.57 L490.5 133.16 L491 136.2 L491.5 137.82 L492 139.12 L492.5 140.25 L493 142.57 L493.5 143.57 L494 145.25 L494.5 146.03 L495 147.72 L495.5 147.71 L496 149.05 L496.5 151.04 L497 151.54 L497.5 151.07 L498 152.5 L498.5 151.82 L499 153.14 L499.5 152.86 L500 152.21 L500.5 151.74 L501 151 L501.5 152.14 L502 150.08 L502.5 150.81 L503 150.28 L503.5 148.66 L504 146.9 L504.5 147 L505 145.92 L505.5 144.04 L506 142.19 L506.5 140.34 L507 138.57 L507.5 136.53 L508 135.34 L508.5 132.97 L509 130.59 L509.5 128.35 L510 126.57 L510.5 123.96 L511 121.64 L511.5 119.11 L512 116.59 L512.5 113.99 L513 111.35 L513.5 108.68 L514 105.99 L514.5 103.28 L515 100.57 L515.5 97.87 L516 95.19 L516.5 92.53 L517 89.91 L517.5 87.34 L518 84.83 L518.5 82.39 L519 80.02 L519.5 77.75 L520 75.57 L520.5 73.5 L521 71.54 L521.5 69.71 L522 68.01 L522.5 66.46 L523 65.04 L523.5 63.78 L524 62.68 L524.5 61.74 L525 60.97 L525.5 60.36 L526 59.93 L526.5 59.67 L527 59.58 L527.5 59.66 L528 59.92 L528.5 60.35 L529 60.94 L529.5 61.7 L530 62.62 L530.5 63.7 L531 64.93 L531.5 66.3 L532 67.81 L532.5 69.45 L533 71.22 L533.5 73.1 L534 75.09 L534.5 77.18 L535 79.37 L535.5 81.63 L536 83.97 L536.5 86.38 L537 88.84 L537.5 91.34 L538 93.89 L538.5 96.46 L539 99.05 L539.5 101.65 L540 104.25 L540.5 106.85 L541 109.43" stroke="#1c1cff" stroke-width="1.25" stroke-dasharray="2.4 0.9 0.9 1.0"/>
<path d="M318.5 114.45 L319 117.26 L319.5 120.03 L320 122.76 L320.5 125.43 L321 128.04 L321.5 130.59 L322 133.06 L322.5 135.45 L323 137.76 L323.5 139.98 L324 142.1 L324.5 144.12 L325 146.04 L325.5 147.85 L326 149.56 L326.5 151.15 L327 152.62 L327.5 153.97 L328 155.2 L328.5 156.31 L329 157.3 L329.5 158.15 L330 158.88 L330.5 159.48 L331 159.95 L331.5 160.28 L332 160.49 L332.5 160.56 L333 160.5 L333.5 160.3 L334 159.97 L334.5 159.5 L335 158.9 L335.5 158.17 L336 157.3 L336.5 156.3 L337 155.17 L337.5 153.91 L338 152.52 L338.5 151 L339 149.36 L339.5 147.59 L340 145.71 L340.5 143.71 L341 141.59 L341.5 139.37 L342 137.05 L342.5 134.63 L343 132.11 L343.5 129.52 L344 126.84 L344.5 124.09 L345 121.28 L345.5 118.42 L346 115.51 L346.5 112.57 L347 109.6 L347.5 106.62 L348 103.63 L348.5 100.64 L349 97.68 L349.5 94.74 L350 91.85 L350.5 89 L351 86.22 L351.5 83.52 L352 80.9 L352.5 78.38 L353 75.97 L353.5 73.67 L354 71.51 L354.5 69.48 L355 67.6 L355.5 65.87 L356 64.31 L356.5 62.91 L357 61.69 L357.5 60.65 L358 59.79 L358.5 59.12 L359 58.64 L359.5 58.35 L360 58.26 L360.5 58.36 L361 58.65 L361.5 59.12 L362 59.79 L362.5 60.63 L363 61.66 L363.5 62.86 L364 64.22 L364.5 65.75 L365 67.43 L365.5 69.25 L366 71.22 L366.5 73.31 L367 75.52 L367.5 77.84 L368 80.26 L368.5 82.77 L369 85.36 L369.5 88.03 L370 90.75 L370.5 93.52 L371 96.34 L371.5 99.18 L372 102.04 L372.5 104.91 L373 107.79 L373.5 110.65 L374 113.5 L374.5 116.31 L375 119.1 L375.5 121.84 L376 124.53 L376.5 127.16 L377 129.73 L377.5 132.23 L378 134.65 L378.5 136.99 L379 139.23 L379.5 141.39 L380 143.45 L380.5 145.4 L381 147.25 L381.5 148.99 L382 150.62 L382.5 152.13 L383 153.53 L383.5 154.8 L384 155.95 L384.5 156.98 L385 157.88 L385.5 158.65 L386 159.29 L386.5 159.8 L387 160.19 L387.5 160.43 L388 160.55 L388.5 160.53 L389 160.38 L389.5 160.1 L390 159.68 L390.5 159.12 L391 158.43 L391.5 157.61 L392 156.66 L392.5 155.57 L393 154.35 L393.5 153.01 L394 151.53 L394.5 149.93 L395 148.2 L395.5 146.36 L396 144.4 L396.5 142.32 L397 140.14 L397.5 137.85 L398 135.46 L398.5 132.98 L399 130.41 L399.5 127.76 L400 125.03 L400.5 122.24 L401 119.4 L401.5 116.5 L402 113.57 L402.5 110.61 L403 107.63 L403.5 104.64 L404 101.65 L404.5 98.68 L405 95.73 L405.5 92.82 L406 89.96 L406.5 87.16 L407 84.43 L407.5 81.78 L408 79.22 L408.5 76.77 L409 74.44 L409.5 72.23 L410 70.15 L410.5 68.22 L411 66.44 L411.5 64.82 L412 63.36 L412.5 62.08 L413 60.98 L413.5 60.06 L414 59.33 L414.5 58.78 L415 58.43 L415.5 58.27 L416 58.3 L416.5 58.53 L417 58.94 L417.5 59.54 L418 60.33 L418.5 61.29 L419 62.43 L419.5 63.74 L420 65.21 L420.5 66.84 L421 68.62 L421.5 70.54 L422 72.58 L422.5 74.75 L423 77.04 L423.5 79.43 L424 81.91 L424.5 84.48 L425 87.12 L425.5 89.82 L426 92.58 L426.5 95.38 L427 98.21 L427.5 101.07 L428 103.94 L428.5 106.81 L429 109.68 L429.5 112.53 L430 115.36 L430.5 118.16 L431 120.92 L431.5 123.63 L432 126.28 L432.5 128.87 L433 131.39 L433.5 133.84 L434 136.2 L434.5 138.48 L435 140.67 L435.5 142.76 L436 144.75 L436.5 146.64 L437 148.42 L437.5 150.08 L438 151.63 L438.5 153.07 L439 154.38 L439.5 155.57 L440 156.64 L440.5 157.59 L441 158.4 L441.5 159.09 L442 159.65 L442.5 160.07 L443 160.37 L443.5 160.53 L444 160.55 L444.5 160.45 L445 160.21 L445.5 159.83 L446 159.33 L446.5 158.68 L447 157.91 L447.5 157 L448 155.95 L448.5 154.78 L449 153.48 L449.5 152.04 L450 150.49 L450.5 148.8 L451 147 L451.5 145.08 L452 143.04 L452.5 140.89 L453 138.63 L453.5 136.28 L454 133.83 L454.5 131.29 L455 128.66 L455.5 125.96 L456 123.2 L456.5 120.37 L457 117.49 L457.5 114.57 L458 111.62 L458.5 108.64 L459 105.65 L459.5 102.67 L460 99.69 L460.5 96.73 L461 93.81 L461.5 90.93 L462 88.1 L462.5 85.35 L463 82.67 L463.5 80.08 L464 77.59 L464.5 75.22 L465 72.96 L465.5 70.84 L466 68.86 L466.5 67.02 L467 65.35 L467.5 63.84 L468 62.5 L468.5 61.33 L469 60.35 L469.5 59.55 L470 58.95 L470.5 58.53 L471 58.3 L471.5 58.27 L472 58.43 L472.5 58.78 L473 59.32 L473.5 60.04 L474 60.95 L474.5 62.03 L475 63.28 L475.5 64.7 L476 66.27 L476.5 68 L477 69.87 L477.5 71.88 L478 74.01 L478.5 76.25 L479 78.61 L479.5 81.06 L480 83.6 L480.5 86.21 L481 88.9 L481.5 91.64 L482 94.43 L482.5 97.25 L483 100.1 L483.5 102.97 L484 105.84 L484.5 108.71 L485 111.57 L485.5 114.41 L486 117.22 L486.5 119.99 L487 122.71 L487.5 125.39 L488 128 L488.5 130.54 L489 133.02 L489.5 135.41 L490 137.72 L490.5 139.94 L491 142.06 L491.5 144.09 L492 146.01 L492.5 147.82 L493 149.53 L493.5 151.12 L494 152.59 L494.5 153.95 L495 155.18 L495.5 156.29 L496 157.28 L496.5 158.14 L497 158.87 L497.5 159.47 L498 159.94 L498.5 160.28 L499 160.49 L499.5 160.56 L500 160.5 L500.5 160.3 L501 159.98 L501.5 159.51 L502 158.92 L502.5 158.18 L503 157.32 L503.5 156.32 L504 155.19 L504.5 153.93 L505 152.54 L505.5 151.03 L506 149.39 L506.5 147.62 L507 145.74 L507.5 143.74 L508 141.63 L508.5 139.41 L509 137.09 L509.5 134.67 L510 132.16 L510.5 129.56 L511 126.89 L511.5 124.14 L512 121.33 L512.5 118.47 L513 115.56 L513.5 112.62 L514 109.65 L514.5 106.67 L515 103.68 L515.5 100.69 L516 97.73 L516.5 94.79 L517 91.9 L517.5 89.05 L518 86.27 L518.5 83.57 L519 80.95 L519.5 78.42 L520 76.01 L520.5 73.71 L521 71.54 L521.5 69.51 L522 67.63 L522.5 65.9 L523 64.33 L523.5 62.93 L524 61.71 L524.5 60.66 L525 59.8 L525.5 59.13 L526 58.65 L526.5 58.36 L527 58.26 L527.5 58.35 L528 58.64 L528.5 59.11 L529 59.78 L529.5 60.62 L530 61.64 L530.5 62.84 L531 64.2 L531.5 65.72 L532 67.4 L532.5 69.22 L533 71.18 L533.5 73.27 L534 75.48 L534.5 77.8 L535 80.22 L535.5 82.73 L536 85.32 L536.5 87.98 L537 90.7 L537.5 93.48 L538 96.29 L538.5 99.13 L539 101.99 L539.5 104.86 L540 107.74 L540.5 110.6 L541 113.45" stroke="#222" stroke-width="1.1" stroke-dasharray="3.3 3.1"/>
</g>
<!-- axes -->
<g fill="none" stroke="#1a1a1a" stroke-width="1.15">
<rect x="37.5" y="12.5" width="231.4" height="187"/>
<path d="M56.5 199.5 v-1.6 M56.5 12.5 v1.6 M76.5 199.5 v-3 M76.5 12.5 v3 M95.5 199.5 v-1.6 M95.5 12.5 v1.6 M114.5 199.5 v-3 M114.5 12.5 v3 M133.5 199.5 v-1.6 M133.5 12.5 v1.6 M153.5 199.5 v-3 M153.5 12.5 v3 M172.5 199.5 v-1.6 M172.5 12.5 v1.6 M191.5 199.5 v-3 M191.5 12.5 v3 M211.5 199.5 v-1.6 M211.5 12.5 v1.6 M230.5 199.5 v-3 M230.5 12.5 v3 M249.5 199.5 v-1.6 M249.5 12.5 v1.6 M37.5 31.5 h1.6 M268.9 31.5 h-1.6 M37.5 49.5 h3 M268.9 49.5 h-3 M37.5 68.5 h1.6 M268.9 68.5 h-1.6 M37.5 87.5 h3 M268.9 87.5 h-3 M37.5 106.5 h1.6 M268.9 106.5 h-1.6 M37.5 124.5 h3 M268.9 124.5 h-3 M37.5 143.5 h1.6 M268.9 143.5 h-1.6 M37.5 162.5 h3 M268.9 162.5 h-3 M37.5 180.5 h1.6 M268.9 180.5 h-1.6"/>
<rect x="318.5" y="12.5" width="222.5" height="187"/>
<path d="M346.5 199.5 v-1.6 M346.5 12.5 v1.6 M374.5 199.5 v-3 M374.5 12.5 v3 M401.5 199.5 v-1.6 M401.5 12.5 v1.6 M429.5 199.5 v-3 M429.5 12.5 v3 M457.5 199.5 v-1.6 M457.5 12.5 v1.6 M485.5 199.5 v-3 M485.5 12.5 v3 M513.5 199.5 v-1.6 M513.5 12.5 v1.6 M318.5 177.5 h3 M541 177.5 h-3 M318.5 150.5 h1.6 M541 150.5 h-1.6 M318.5 122.5 h3 M541 122.5 h-3 M318.5 95.5 h1.6 M541 95.5 h-1.6 M318.5 67.5 h3 M541 67.5 h-3 M318.5 40.5 h1.6 M541 40.5 h-1.6"/>
</g>
<path d="M201.2 27.5 H223.6" stroke="#1a1aff" stroke-width="1" stroke-dasharray="2.4 0.9 0.9 1.0" fill="none"/>
<text x="226" y="31" class="t" style="font-size:9.7px"><tspan font-style="italic">h</tspan>=<tspan font-style="italic">L</tspan>/100</text>
<path d="M201.2 39.4 H223.6" stroke="#ff2020" stroke-width="1" fill="none"/>
<text x="226" y="42.9" class="t" style="font-size:9.7px"><tspan font-style="italic">h</tspan>=<tspan font-style="italic">L</tspan>/200</text>
<path d="M201.2 51.4 H223.6" stroke="#222" stroke-width="1" stroke-dasharray="3.3 3.1" fill="none"/>
<text x="226" y="54.9" class="t" style="font-size:9.7px"><tspan font-style="italic">h</tspan>=<tspan font-style="italic">L</tspan>/300</text>
<path d="M478.2 23.6 H499.8" stroke="#1a1aff" stroke-width="1" stroke-dasharray="2.4 0.9 0.9 1.0" fill="none"/>
<text x="502.3" y="26.7" class="t" style="font-size:9.2px"><tspan font-style="italic">h</tspan>=<tspan font-style="italic">L</tspan>/100</text>
<path d="M478.2 35.5 H499.8" stroke="#ff2020" stroke-width="1" fill="none"/>
<text x="502.3" y="38.6" class="t" style="font-size:9.2px"><tspan font-style="italic">h</tspan>=<tspan font-style="italic">L</tspan>/200</text>
<path d="M478.2 47.5 H499.8" stroke="#222" stroke-width="1" stroke-dasharray="3.3 3.1" fill="none"/>
<text x="502.3" y="50.6" class="t" style="font-size:9.2px"><tspan font-style="italic">h</tspan>=<tspan font-style="italic">L</tspan>/300</text>
<text x="33.1" y="16" text-anchor="end" class="t">0.0</text>
<text x="33.1" y="53.4" text-anchor="end" class="t">-0.1</text>
<text x="33.1" y="90.8" text-anchor="end" class="t">-0.2</text>
<text x="33.1" y="128.2" text-anchor="end" class="t">-0.3</text>
<text x="33.1" y="165.6" text-anchor="end" class="t">-0.4</text>
<text x="33.1" y="203" text-anchor="end" class="t">-0.5</text>
<text x="37.5" y="212.4" text-anchor="middle" class="t">0</text>
<text x="76.07" y="212.4" text-anchor="middle" class="t">1</text>
<text x="114.63" y="212.4" text-anchor="middle" class="t">2</text>
<text x="153.2" y="212.4" text-anchor="middle" class="t">3</text>
<text x="191.77" y="212.4" text-anchor="middle" class="t">4</text>
<text x="230.33" y="212.4" text-anchor="middle" class="t">5</text>
<text x="268.9" y="212.4" text-anchor="middle" class="t">6</text>
<text x="314.8" y="16" text-anchor="end" class="t">0.05</text>
<text x="314.8" y="71" text-anchor="end" class="t">0.00</text>
<text x="314.8" y="126" text-anchor="end" class="t">-0.05</text>
<text x="314.8" y="181" text-anchor="end" class="t">-0.10</text>
<text x="318.5" y="212.4" text-anchor="middle" class="t">4.0</text>
<text x="374.12" y="212.4" text-anchor="middle" class="t">4.5</text>
<text x="429.75" y="212.4" text-anchor="middle" class="t">5.0</text>
<text x="485.38" y="212.4" text-anchor="middle" class="t">5.5</text>
<text x="541" y="212.4" text-anchor="middle" class="t">6.0</text>
<text class="t" style="font-size:10px" transform="translate(10.6 110.2) rotate(-90)"><tspan font-style="italic">U</tspan><tspan font-style="italic" font-size="6.8" dy="2.6" dx="-0.2">x</tspan></text>
<text class="t" style="font-size:9.2px" transform="translate(286.0 107.6) rotate(-90)"><tspan font-style="italic">F</tspan><tspan font-style="italic" font-size="6.8" dy="2.4" dx="-0.6">x</tspan></text>
<text class="t" y="224"><tspan x="147.9" font-style="italic">t</tspan><tspan x="152.2" font-weight="normal">/</tspan><tspan x="156.3" font-style="italic">T</tspan></text>
<text class="t" y="224"><tspan x="424.5" font-style="italic">t</tspan><tspan x="428.6" font-weight="normal">/</tspan><tspan x="432.6" font-style="italic">T</tspan></text>
<text class="cap" x="136.4" y="250.3" text-anchor="middle">(<tspan font-weight="bold">a</tspan>)</text>
<text class="cap" x="411.2" y="250.3" text-anchor="middle">(<tspan font-weight="bold">b</tspan>)</text>
</svg>
</body></html>
